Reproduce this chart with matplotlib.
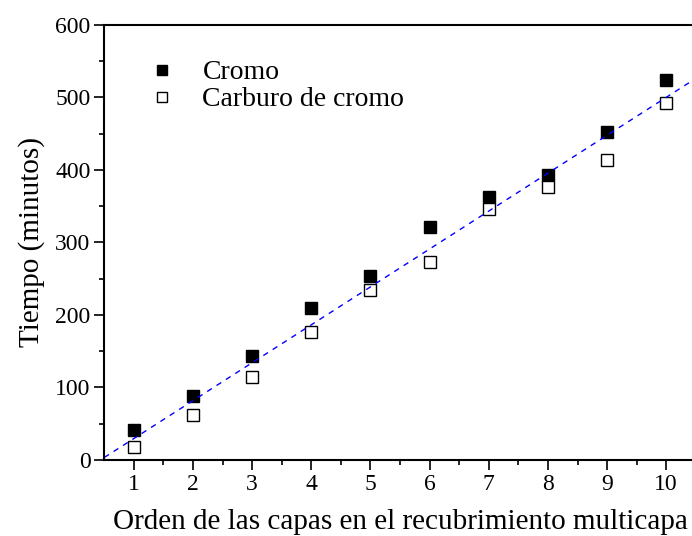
import numpy as np
import matplotlib
matplotlib.use('Agg')
import matplotlib.pyplot as plt

plt.rcParams['font.family'] = ['Liberation Serif', 'DejaVu Serif']

# datos
orden = [1, 2, 3, 4, 5, 6, 7, 8, 9, 10]
cromo = [42, 88, 144, 210, 254, 322, 363, 393, 453, 524]
carburo = [18, 62, 114, 176, 234, 273, 346, 376, 414, 492]

fig = plt.figure(figsize=(6.92, 5.36), dpi=100)
ax = fig.add_axes([0.1507, 0.1418, 0.8548, 0.8116])

ax.plot(orden, cromo, 's', color='black', markersize=9, label='Cromo')
ax.plot(orden, carburo, 's', markerfacecolor='white', markeredgecolor='black',
        markeredgewidth=1.0, markersize=9, label='Carburo de cromo')

# ajuste lineal de todos los puntos
xs = np.array(orden * 2)
ys = np.array(cromo + carburo)
m, b = np.polyfit(xs, ys, 1)
xl = np.array([0.5, 10.5])
ax.plot(xl, m * xl + b, color='blue', linestyle=(0, (4, 4)), linewidth=1.0)

ax.set_xlim(0.5, 10.5)
ax.set_ylim(0, 600)
ax.set_xticks(orden)
ax.set_xticks(np.arange(1.5, 10.5, 1), minor=True)
ax.set_yticks(range(0, 601, 100))
ax.set_yticks(range(50, 600, 100), minor=True)

ax.spines['right'].set_visible(False)
for s in ['top', 'bottom', 'left']:
    ax.spines[s].set_linewidth(1.5)
ax.tick_params(which='major', direction='out', length=7, width=1.2, labelsize=17, pad=3)
ax.tick_params(which='minor', direction='out', length=3.5, width=1.2)
ax.tick_params(top=False, right=False)

ax.set_xlabel('Orden de las capas en el recubrimiento multicapa', fontsize=21, labelpad=10)
ax.set_ylabel('Tiempo (minutos)', fontsize=21, labelpad=7)

ax.legend(loc='upper left', bbox_to_anchor=(0.032, 0.977), frameon=False, fontsize=20,
          markerscale=0.8, handlelength=1.0, handletextpad=0.95, labelspacing=0.05)

fig.savefig('out.png', dpi=100)
